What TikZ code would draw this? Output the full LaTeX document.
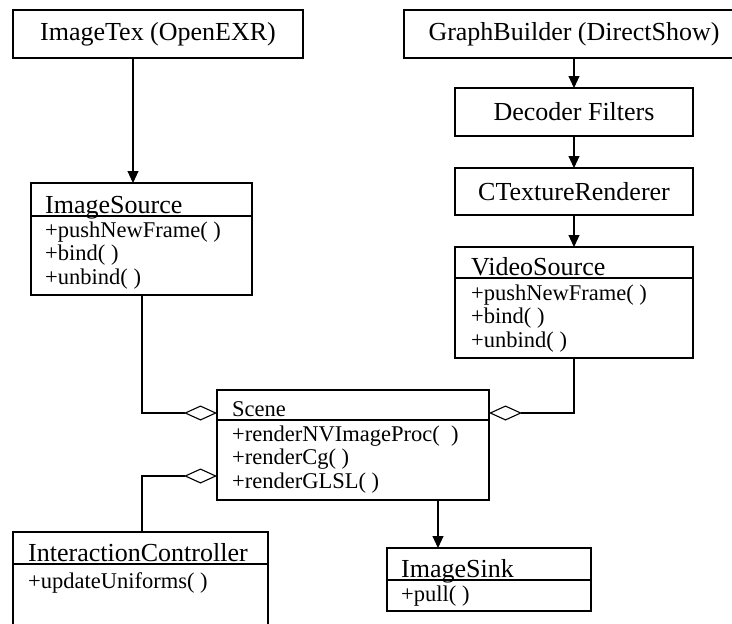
\documentclass[tikz,border=0pt]{standalone}
\usepackage{fontspec}
\setmainfont{Liberation Serif}
\usetikzlibrary{arrows.meta}
\begin{document}
\begin{tikzpicture}[x=1pt,y=-1pt,
  box/.style={draw,line width=1.1pt,inner sep=0pt,outer sep=0pt,anchor=north west},
  big/.style={font=\fontsize{26}{30}\selectfont},
  small/.style={font=\fontsize{22.5}{26}\selectfont},
  ttl/.style={anchor=base west,inner sep=0pt,big},
  mth/.style={anchor=base west,inner sep=0pt,small},
  conn/.style={line width=1.1pt},
  arr/.style={conn,-{Triangle[length=12pt,width=11pt]}},
  agg/.style={conn,{Diamond[open,length=33pt,width=15pt,line width=1.1pt]}-}]
\useasboundingbox (0,0) rectangle (732,624);
% simple boxes
\node[box,big,minimum width=290,minimum height=48] (imgtex) at (13,10) {ImageTex (OpenEXR)};
\node[box,big,minimum width=340,minimum height=48] (graph) at (404,10) {GraphBuilder (DirectShow)};
\node[box,big,minimum width=238,minimum height=48] (dec) at (455,88) {Decoder Filters};
\node[box,big,minimum width=238,minimum height=47] (ctex) at (455,168) {CTextureRenderer};
% ImageSource
\node[box,minimum width=221,minimum height=112] (imgsrc) at (31,183) {};
\draw[conn] (imgsrc.west |- 0,216) -- (imgsrc.east |- 0,216);
\node[ttl] (imgsrcT) at (45,213) {ImageSource};
\node[mth] (imgsrcA) at (45,237) {+pushNewFrame( )};
\node[mth] (imgsrcB) at (45,260.5) {+bind( )};
\node[mth] (imgsrcC) at (45,284) {+unbind( )};
% VideoSource
\node[box,minimum width=238,minimum height=111] (vidsrc) at (455,247) {};
\draw[conn] (vidsrc.west |- 0,278) -- (vidsrc.east |- 0,278);
\node[ttl] (vidsrcT) at (471,275) {VideoSource};
\node[mth] (vidsrcA) at (471,300) {+pushNewFrame( )};
\node[mth] (vidsrcB) at (471,323.5) {+bind( )};
\node[mth] (vidsrcC) at (471,347) {+unbind( )};
% Scene
\node[box,minimum width=272,minimum height=110] (scene) at (217,390) {};
\draw[conn] (scene.west |- 0,420) -- (scene.east |- 0,420);
\node[mth] (sceneT) at (232,416.5) {Scene};
\node[mth] (sceneA) at (232,441) {+renderNVImageProc(\ \ )};
\node[mth] (sceneB) at (232,464.5) {+renderCg( )};
\node[mth] (sceneC) at (232,488) {+renderGLSL( )};
% InteractionController
\node[box,minimum width=255,minimum height=110] (ic) at (13,532) {};
\draw[conn] (ic.west |- 0,564) -- (ic.east |- 0,564);
\node[ttl] (icT) at (28,561) {InteractionController};
\node[mth] (icA) at (28,588) {+updateUniforms( )};
% ImageSink
\node[box,minimum width=204,minimum height=63] (sink) at (387,548) {};
\draw[conn] (sink.west |- 0,580) -- (sink.east |- 0,580);
\node[ttl] (sinkT) at (401,577) {ImageSink};
\node[mth] (sinkA) at (401,601) {+pull( )};
% connectors
\draw[arr] (imgtex.south -| 133,0) -- (imgsrc.north -| 133,0);
\draw[arr] (graph.south -| 574,0) -- (dec.north -| 574,0);
\draw[arr] (dec.south -| 574,0) -- (ctex.north -| 574,0);
\draw[arr] (ctex.south -| 574,0) -- (vidsrc.north -| 574,0);
\draw[agg] (scene.west |- 0,413) -| (imgsrc.south -| 142,0);
\draw[agg] (scene.east |- 0,413) -| (vidsrc.south -| 574,0);
\draw[agg] (scene.west |- 0,476) -| (ic.north -| 142,0);
\draw[arr] (scene.south -| 438,0) -- (sink.north -| 438,0);
\end{tikzpicture}
\end{document}
